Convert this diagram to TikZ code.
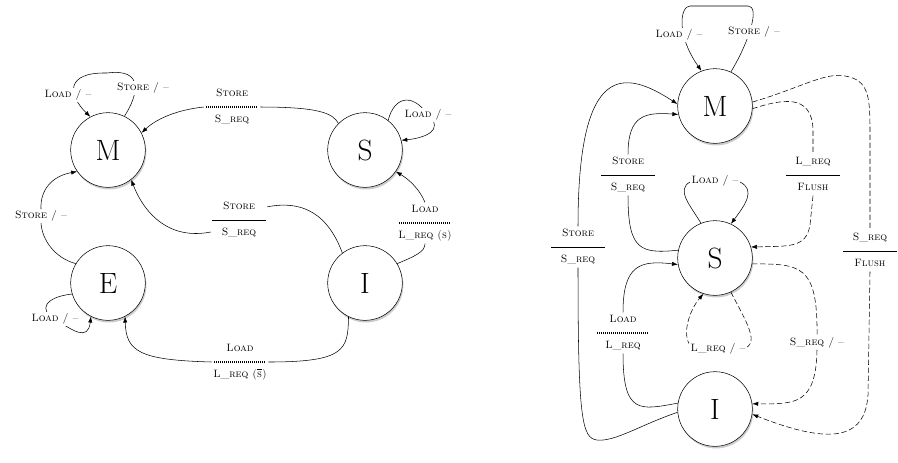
\documentclass[tikz,border=0pt]{standalone}
\usetikzlibrary{arrows.meta,shadows}
\newcommand{\trans}[2]{\begin{tabular}{@{}c@{}}#1\\\rule[1.5pt]{40pt}{0.5pt}\\#2\end{tabular}}
\newcommand{\transd}[2]{\begin{tabular}{@{}c@{}}#1\\\makebox[40pt]{\leaders\hbox to 1.5pt{\hss\rule[1.1pt]{1pt}{1.4pt}\hss}\hfill}\\#2\end{tabular}}

\begin{document}
\begin{tikzpicture}[x=0.75pt,y=-0.75pt,thin,>={Latex[length=4.5pt,width=3.2pt]},
  state/.style={circle,draw,fill=white,minimum size=56pt,inner sep=0pt,
    drop shadow={opacity=0.4,shadow xshift=0.8pt,shadow yshift=-1.6pt},
    font=\fontsize{22}{24}\selectfont},
  lbl/.style={fill=white,inner sep=1pt,font=\fontsize{8}{9.5}\selectfont\scshape},
  bus/.style={dash pattern=on 4pt off 2pt}]
\useasboundingbox (0,0) rectangle (898,462);

% left: four states
\node[state] (m1) at (108,150) {M};
\node[state] (s1) at (365,150) {S};
\node[state] (e1) at (108,283) {E};
\node[state] (i1) at (365,283) {I};

\node[lbl] (sm1) at (232,107) {\transd{Store}{S\_req}};
\node[lbl] (im1) at (239,220) {\trans{Store}{S\_req}};
\node[lbl] (is1) at (425,223) {\transd{Load}{L\_req (s)}};
\node[lbl] (ie1) at (240,362) {\transd{Load}{L\_req ($\overline{\mbox{s}}$)}};
\node[lbl] (em1) at (41,216) {Store / --};

\draw (s1.135) .. controls (333,113) and (318,107) .. (sm1.east);
\draw[->] (sm1.west) .. controls (175,110) and (155,120) .. (m1.27);
\draw (i1.127) .. controls (332,225) and (312,198) .. (im1.25);
\draw[->] (im1.203) .. controls (170,240) and (145,215) .. (m1.308);
\draw (i1.31) .. controls (415,256) and (425,252) .. (is1.south);
\draw[->] (is1.north) .. controls (420,190) and (410,180) .. (s1.-35);
\draw (e1.149) .. controls (55,258) and (42,240) .. (em1.south);
\draw[->] (em1.north) .. controls (40,190) and (52,176) .. (m1.215);
\draw (i1.244) .. controls (348,350) and (345,362) .. (ie1.east);
\draw[->] (ie1.west) .. controls (140,360) and (126,352) .. (e1.297);

% loops
\draw[->] (m1.64) .. controls (138,95) and (145,68) .. (107,73)
  .. controls (65,72) and (68,95) .. (m1.118);
\draw[->] (s1.52) .. controls (394,97) and (412,92) .. (428,115)
  .. controls (445,130) and (425,138) .. (s1.15);
\draw[->] (e1.197) .. controls (45,297) and (38,310) .. (55,319)
  .. controls (72,330) and (88,342) .. (e1.243);

\node[lbl] (ml1) at (68,95) {Load / --};
\node[lbl] (mt1) at (143,88) {Store / --};
\node[lbl] (sl1) at (428,115) {Load / --};
\node[lbl] (el1) at (55,319) {Load / --};

% right: three states
\node[state] (m2) at (715,106) {M};
\node[state] (s2) at (715,258) {S};
\node[state] (i2) at (715,409) {I};

\node[lbl] (sm2) at (628,175) {\trans{Store}{S\_req}};
\node[lbl] (ms2) at (813,175) {\trans{L\_req}{Flush}};
\node[lbl] (im2) at (578,247) {\trans{Store}{S\_req}};
\node[lbl] (mi2) at (870,251) {\trans{S\_req}{Flush}};
\node[lbl] (is2) at (623,333) {\transd{Load}{L\_req}};
\node[lbl] (si2) at (817,343) {S\_req / --};

\draw (s2.168) .. controls (640,254) and (628,250) .. (sm2.south);
\draw[->] (sm2.north) .. controls (628,115) and (645,112) .. (m2.193);
\draw (i2.185) .. controls (640,425) and (615,442) .. (597,440)
  .. controls (582,438) and (578,420) .. (im2.south);
\draw[->] (im2.north) .. controls (578,60) and (625,70) .. (m2.177);
\draw (i2.171) .. controls (640,410) and (623,415) .. (is2.south);
\draw[->] (is2.north) .. controls (623,265) and (640,260) .. (s2.190);

\draw[bus] (m2.-4) .. controls (780,100) and (812,92) .. (813,130) -- (ms2.north);
\draw[bus,->] (ms2.south) -- (810,225) .. controls (806,248) and (790,246) .. (s2.17);
\draw[bus] (m2.6) .. controls (800,88) and (825,72) .. (845,76)
  .. controls (868,80) and (870,95) .. (870,130) -- (mi2.north);
\draw[bus,->] (mi2.south) -- (868,395) .. controls (865,440) and (830,445) .. (i2.-8);
\draw[bus] (s2.-9) .. controls (800,264) and (818,264) .. (si2.north);
\draw[bus,->] (si2.south) .. controls (816,405) and (795,404) .. (i2.8);

% loops
\draw[->] (m2.65) .. controls (750,40) and (760,6) .. (748,6) -- (690,6)
  .. controls (680,6) and (676,35) .. (m2.111);
\draw[->] (s2.112) .. controls (690,205) and (676,190) .. (690,182) -- (740,182)
  .. controls (756,190) and (745,205) .. (s2.65);
\draw[bus,->] (s2.295) .. controls (745,320) and (762,345) .. (742,349) -- (694,349)
  .. controls (680,340) and (688,312) .. (s2.252);

\node[lbl] (ml2) at (679,35) {Load / --};
\node[lbl] (mt2) at (754,32) {Store / --};
\node[lbl] (sl2) at (715,181) {Load / --};
\node[lbl] (sb2) at (718,349) {L\_req / --};

\end{tikzpicture}
\end{document}
